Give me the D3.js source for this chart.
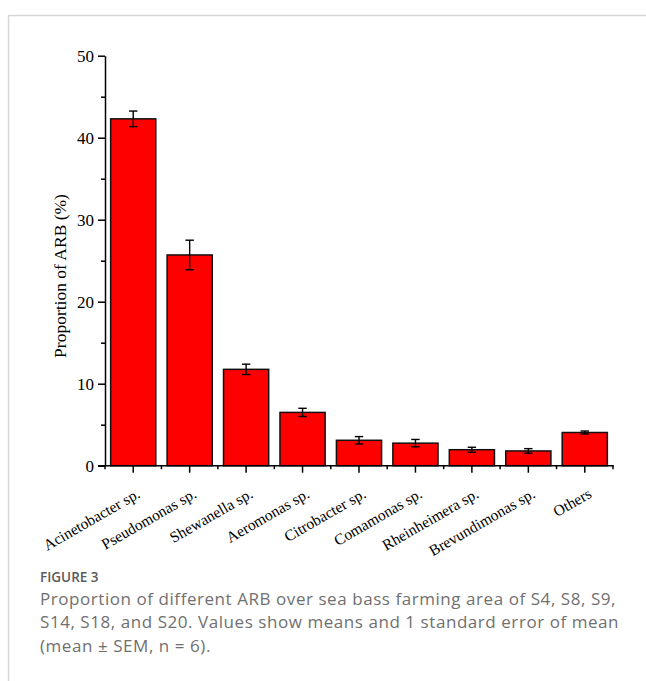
<!DOCTYPE html>
<html>
<head>
<meta charset="utf-8">
<script src="https://cdn.jsdelivr.net/npm/d3@7"></script>
<style>
  html, body { margin: 0; padding: 0; background: #fff; }
  svg { display: block; }
</style>
</head>
<body>
<svg id="chart" width="646" height="681"></svg>
<script>
// Bacterial genera isolated as antibiotic-resistant bacteria (ARB)
const categories = [
  "Acinetobacter sp.", "Pseudomonas sp.", "Shewanella sp.", "Aeromonas sp.",
  "Citrobacter sp.", "Comamonas sp.", "Rheinheimera sp.", "Brevundimonas sp.", "Others"
];
// Mean proportion (%) and standard error of the mean
const means = [42.3, 25.7, 11.75, 6.5, 3.1, 2.75, 1.95, 1.8, 4.05];
const sems  = [0.95, 1.8, 0.63, 0.5, 0.45, 0.45, 0.3, 0.28, 0.18];
const yTicks = [0, 10, 20, 30, 40, 50];
const yMinorTicks = [5, 15, 25, 35, 45];

const captionTitle = "FIGURE 3";
const captionLines = [
  "Proportion of different ARB over sea bass farming area of S4, S8, S9,",
  "S14, S18, and S20. Values show means and 1 standard error of mean",
  "(mean \u00B1 SEM, n = 6)."
];

const svg = d3.select("#chart");

// Page frame (light rule on the top and left)
svg.append("line").attr("x1", 9).attr("x2", 646).attr("y1", 15.5).attr("y2", 15.5)
  .attr("stroke", "#d6d6d6").attr("stroke-width", 1.5);
svg.append("line").attr("x1", 8.5).attr("x2", 8.5).attr("y1", 15).attr("y2", 681)
  .attr("stroke", "#d6d6d6").attr("stroke-width", 1.5);

const plot = { left: 105, right: 613, top: 55.7, bottom: 465.7 };

const x = d3.scaleBand()
  .domain(categories)
  .range([plot.left, plot.right])
  .paddingInner(0.2)
  .paddingOuter(0.1);

const y = d3.scaleLinear().domain([0, 50]).range([plot.bottom, plot.top]);

const serif = "'Liberation Serif', 'Times New Roman', serif";

// Bars
svg.append("g").selectAll("rect")
  .data(categories)
  .join("rect")
  .attr("x", d => x(d))
  .attr("y", (d, i) => y(means[i]))
  .attr("width", x.bandwidth())
  .attr("height", (d, i) => y(0) - y(means[i]))
  .attr("fill", "#ff0000")
  .attr("stroke", "#111")
  .attr("stroke-width", 1.5);

// Error bars
const eb = svg.append("g").attr("stroke", "#000").attr("stroke-width", 1.4).attr("fill", "none");
categories.forEach((c, i) => {
  const cx = x(c) + x.bandwidth() / 2;
  const hi = y(means[i] + sems[i]), lo = y(means[i] - sems[i]);
  eb.append("line").attr("x1", cx).attr("x2", cx).attr("y1", hi).attr("y2", lo);
  eb.append("line").attr("x1", cx - 4.2).attr("x2", cx + 4.2).attr("y1", hi).attr("y2", hi);
  eb.append("line").attr("x1", cx - 4.2).attr("x2", cx + 4.2).attr("y1", lo).attr("y2", lo);
});

// Y axis
const yAxis = svg.append("g")
  .attr("transform", `translate(${plot.left},0)`)
  .call(d3.axisLeft(y).tickValues(yTicks).tickSize(7).tickPadding(4).tickSizeOuter(0));
yAxis.select(".domain").attr("stroke", "#000").attr("stroke-width", 1.5);
yAxis.selectAll(".tick line").attr("stroke", "#000").attr("stroke-width", 1.5);
yAxis.selectAll(".tick text").attr("font-family", serif).attr("font-size", 17).attr("fill", "#000");
svg.append("g").attr("transform", `translate(${plot.left},0)`)
  .call(d3.axisLeft(y).tickValues(yMinorTicks).tickSize(4).tickFormat(""))
  .call(g => g.select(".domain").remove())
  .selectAll(".tick line").attr("stroke", "#000").attr("stroke-width", 1.5);

// X axis: major ticks at bar centres, minor ticks at category boundaries
const xAxis = svg.append("g")
  .attr("transform", `translate(0,${plot.bottom})`)
  .call(d3.axisBottom(x).tickSize(7).tickSizeOuter(0).tickFormat(""));
xAxis.select(".domain").attr("stroke", "#000").attr("stroke-width", 1.5)
  .attr("d", `M${plot.left - 7},0H${plot.right + 0.75}`);
xAxis.selectAll(".tick line").attr("stroke", "#000").attr("stroke-width", 1.5);

const step = x.step();
const bounds = d3.range(categories.length + 1).map(i => plot.left + i * step);
svg.append("g").selectAll("line")
  .data(bounds)
  .join("line")
  .attr("x1", d => d).attr("x2", d => d)
  .attr("y1", plot.bottom).attr("y2", plot.bottom + 3.5)
  .attr("stroke", "#000").attr("stroke-width", 1.5);

// Rotated category labels
svg.append("g").selectAll("text")
  .data(categories)
  .join("text")
  .attr("transform", d => `translate(${x(d) + x.bandwidth() / 2 + 8},${plot.bottom + 31}) rotate(-30)`)
  .attr("text-anchor", "end")
  .attr("font-family", serif)
  .attr("font-size", 15.5)
  .attr("fill", "#000")
  .text(d => d);

// Y axis title
svg.append("text")
  .attr("transform", `translate(66,276) rotate(-90)`)
  .attr("text-anchor", "middle")
  .attr("font-family", serif)
  .attr("font-size", 17.5)
  .attr("fill", "#000")
  .text("Proportion of ARB (%)");

// Caption
const sans = "'Open Sans', Lato, sans-serif";
svg.append("text")
  .attr("x", 40).attr("y", 582)
  .attr("font-family", sans)
  .attr("font-size", 13.5)
  .attr("font-weight", 600)
  .attr("fill", "#5a5a5a")
  .text(captionTitle);

const capText = svg.append("g").selectAll("text")
  .data(captionLines)
  .join("text")
  .attr("x", 40)
  .attr("y", (d, i) => 605 + i * 23.3)
  .attr("font-family", sans)
  .attr("font-size", 17)
  .attr("fill", "#707070")
  .text(d => d);

// Spread the caption so the first line fills the text column
const firstLen = capText.node().getComputedTextLength();
const spacing = (576 - firstLen) / captionLines[0].length;
capText.attr("letter-spacing", spacing);
</script>
</body>
</html>
